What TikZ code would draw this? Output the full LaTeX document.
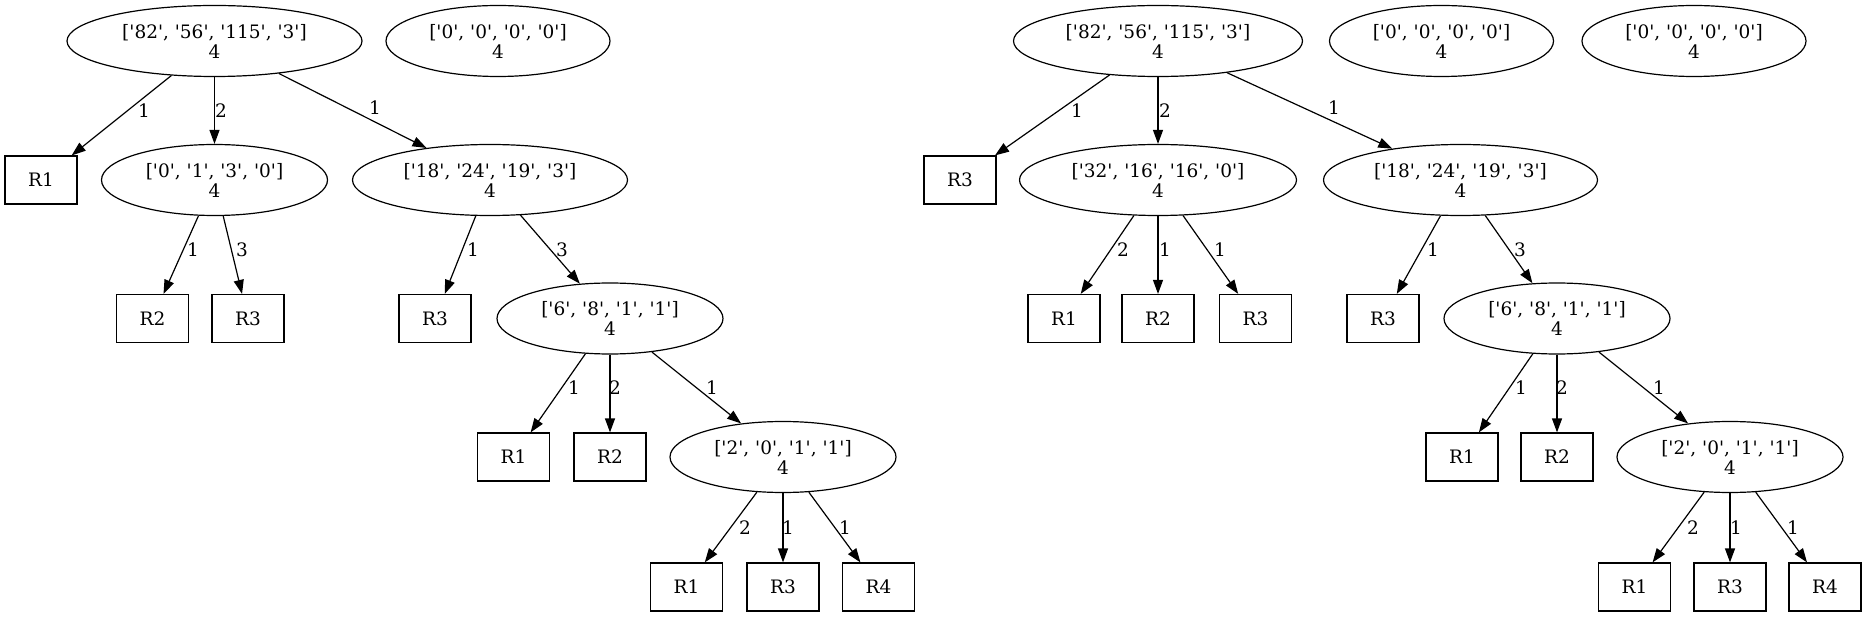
\documentclass[tikz,border=0pt]{standalone}
\usepackage{fontspec}
\setmainfont{DejaVu Serif}[Ligatures=TeXOff]
\usetikzlibrary{shapes.geometric,arrows.meta}
\tikzset{
  txt/.style={font=\fontsize{18.5}{20}\selectfont, text=black},
  ell/.style={txt, ellipse, draw, line width=1.2pt, inner sep=0pt, minimum height=71pt, align=center},
  leaf/.style={txt, rectangle, draw, line width=1.2pt, minimum width=72pt, minimum height=48pt, inner sep=0pt},
  lbl/.style={txt, inner sep=0pt},
  arr/.style={-{Triangle[length=14pt,width=10pt]}, line width=1.2pt},
}
\begin{document}
\begin{tikzpicture}[x=1pt,y=-1pt]
\useasboundingbox (0,0) rectangle (1868,617);
% ---------- left tree ----------
\node[ell, minimum width=295pt] (ra) at (214.5,41) {['82', '56', '115', '3']\\4};
\node[ell, minimum width=224pt] (za) at (498,41) {['0', '0', '0', '0']\\4};
\node[leaf] (a1) at (41,180) {R1};
\node[ell, minimum width=226pt] (na) at (214.5,180) {['0', '1', '3', '0']\\4};
\node[ell, minimum width=275pt] (ma) at (490,180) {['18', '24', '19', '3']\\4};
\node[leaf] (a2) at (152.5,318.5) {R2};
\node[leaf] (a3) at (248,318.5) {R3};
\node[leaf] (a4) at (435,318.5) {R3};
\node[ell, minimum width=226pt] (pa) at (610,318.5) {['6', '8', '1', '1']\\4};
\node[leaf] (a5) at (513.5,457) {R1};
\node[leaf] (a6) at (610,457) {R2};
\node[ell, minimum width=226pt] (qa) at (783,457) {['2', '0', '1', '1']\\4};
\node[leaf] (a7) at (686.5,587) {R1};
\node[leaf] (a8) at (783,587) {R3};
\node[leaf] (a9) at (878.5,587) {R4};
\draw[arr] (ra) -- (a1);
\draw[arr] (ra) -- (na);
\draw[arr] (ra) -- (ma);
\draw[arr] (na) -- (a2);
\draw[arr] (na) -- (a3);
\draw[arr] (ma) -- (a4);
\draw[arr] (ma) -- (pa);
\draw[arr] (pa) -- (a5);
\draw[arr] (pa) -- (a6);
\draw[arr] (pa) -- (qa);
\draw[arr] (qa) -- (a7);
\draw[arr] (qa) -- (a8);
\draw[arr] (qa) -- (a9);
\node[lbl] (la1) at (144,111) {1};
\node[lbl] (la2) at (221,111) {2};
\node[lbl] (la3) at (375,108) {1};
\node[lbl] (la4) at (193,250) {1};
\node[lbl] (la5) at (242,250) {3};
\node[lbl] (la6) at (473,250) {1};
\node[lbl] (la7) at (562,250) {3};
\node[lbl] (la8) at (574,388) {1};
\node[lbl] (la9) at (615,388) {2};
\node[lbl] (la10) at (712,388) {1};
\node[lbl] (la11) at (745,528) {2};
\node[lbl] (la12) at (788,528) {1};
\node[lbl] (la13) at (845,528) {1};
% ---------- right tree ----------
\node[ell, minimum width=289pt] (rb) at (1158,41) {['82', '56', '115', '3']\\4};
\node[ell, minimum width=224pt] (zb) at (1441.5,41) {['0', '0', '0', '0']\\4};
\node[ell, minimum width=224pt] (zc) at (1694,41) {['0', '0', '0', '0']\\4};
\node[leaf] (b1) at (960,180) {R3};
\node[ell, minimum width=277pt] (nb) at (1158,180) {['32', '16', '16', '0']\\4};
\node[ell, minimum width=274pt] (mb) at (1460.5,180) {['18', '24', '19', '3']\\4};
\node[leaf] (b2) at (1064,318.5) {R1};
\node[leaf] (b3) at (1158,318.5) {R2};
\node[leaf] (b4) at (1255.5,318.5) {R3};
\node[leaf] (b5) at (1383,318.5) {R3};
\node[ell, minimum width=226pt] (pb) at (1557,318.5) {['6', '8', '1', '1']\\4};
\node[leaf] (b6) at (1462,457) {R1};
\node[leaf] (b7) at (1557,457) {R2};
\node[ell, minimum width=226pt] (qb) at (1730,457) {['2', '0', '1', '1']\\4};
\node[leaf] (b8) at (1634.5,587) {R1};
\node[leaf] (b9) at (1730,587) {R3};
\node[leaf] (b10) at (1825,587) {R4};
\draw[arr] (rb) -- (b1);
\draw[arr] (rb) -- (nb);
\draw[arr] (rb) -- (mb);
\draw[arr] (nb) -- (b2);
\draw[arr] (nb) -- (b3);
\draw[arr] (nb) -- (b4);
\draw[arr] (mb) -- (b5);
\draw[arr] (mb) -- (pb);
\draw[arr] (pb) -- (b6);
\draw[arr] (pb) -- (b7);
\draw[arr] (pb) -- (qb);
\draw[arr] (qb) -- (b8);
\draw[arr] (qb) -- (b9);
\draw[arr] (qb) -- (b10);
\node[lbl] (lb1) at (1077,111) {1};
\node[lbl] (lb2) at (1165,111) {2};
\node[lbl] (lb3) at (1334,108) {1};
\node[lbl] (lb4) at (1123,250) {2};
\node[lbl] (lb5) at (1165,250) {1};
\node[lbl] (lb6) at (1220,250) {1};
\node[lbl] (lb7) at (1433,250) {1};
\node[lbl] (lb8) at (1520,250) {3};
\node[lbl] (lb9) at (1521,388) {1};
\node[lbl] (lb10) at (1562,388) {2};
\node[lbl] (lb11) at (1659,388) {1};
\node[lbl] (lb12) at (1693,528) {2};
\node[lbl] (lb13) at (1736,528) {1};
\node[lbl] (lb14) at (1793,528) {1};
\end{tikzpicture}
\end{document}
